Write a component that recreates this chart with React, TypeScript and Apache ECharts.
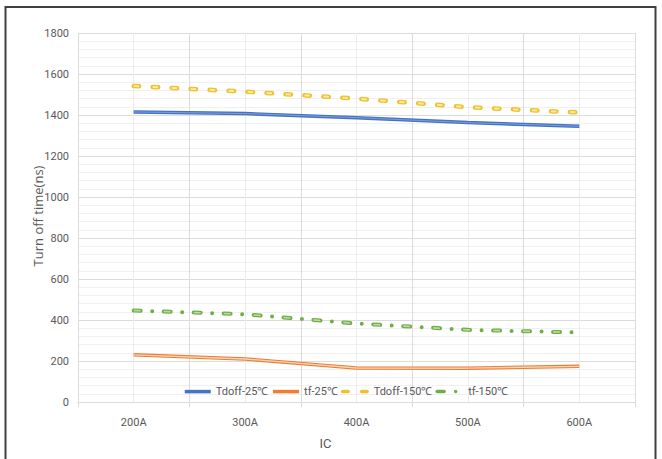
import React, { useEffect, useRef } from "react";
import * as echarts from "echarts";

// Collector current steps on the x axis
const categories = ["200A", "300A", "400A", "500A", "600A"];

// Turn-off times in ns
const tdoff25 = [1415, 1407, 1387, 1363, 1345];
const tf25 = [230, 210, 166, 165, 174];
const tdoff150 = [1541, 1514, 1480, 1438, 1412];
const tf150 = [446, 428, 383, 352, 339];

const seriesNames = ["Tdoff-25℃", "tf-25℃", "Tdoff-150℃", "tf-150℃"];
const yTitle = "Turn off time(ns)";

// y axis range and step
const yMin = 0;
const yMax = 1800;
const yStep = 200;

const tickFont = "'Roboto', 'Liberation Sans', sans-serif";
const textGray = "#595959";
const gridMajor = "#dcdcdc";
const gridMinor = "#f0f0f0";

// Each curve is a wide coloured stroke with a lighter core drawn on top of it,
// which gives the outlined look of the lines.
type LineDef = {
  name: string;
  data: number[];
  outer: string;
  inner: string;
  outerWidth: number;
  innerWidth: number;
  dash: number[] | "solid";
};

const lines: LineDef[] = [
  { name: seriesNames[0], data: tdoff25, outer: "#4472C4", inner: "#7d9ddc", outerWidth: 3.5, innerWidth: 1, dash: "solid" },
  { name: seriesNames[1], data: tf25, outer: "#ED7D31", inner: "#F9D3B8", outerWidth: 3.5, innerWidth: 1.4, dash: "solid" },
  { name: seriesNames[2], data: tdoff150, outer: "#EDC12F", inner: "#FFE89C", outerWidth: 4.5, innerWidth: 2, dash: [5.5, 13.5] },
  { name: seriesNames[3], data: tf150, outer: "#70AD47", inner: "#B9DBA1", outerWidth: 4, innerWidth: 1.6, dash: [7, 11.5, 0, 11.5] },
];

export default function App() {
  const ref = useRef<HTMLDivElement>(null);

  useEffect(() => {
    if (!ref.current) return;
    const chart = echarts.init(ref.current, null, { renderer: "svg" });

    const series: any[] = [];
    lines.forEach((l) => {
      series.push({
        name: l.name,
        type: "line",
        data: l.data,
        symbol: "none",
        z: 2,
        lineStyle: {
          color: l.outer,
          width: l.outerWidth,
          type: l.dash,
          cap: l.dash === "solid" ? "butt" : "round",
        },
        itemStyle: { color: l.outer },
      });
    });
    lines.forEach((l) => {
      series.push({
        name: l.name + " core",
        type: "line",
        data: l.data,
        symbol: "none",
        z: 3,
        silent: true,
        legendHoverLink: false,
        lineStyle: {
          color: l.inner,
          width: l.innerWidth,
          type: l.dash,
          cap: "butt",
        },
      });
    });

    chart.setOption({
      animation: false,
      backgroundColor: "#ffffff",
      textStyle: { fontFamily: tickFont },
      grid: { left: 78, right: 27, top: 33, bottom: 57, containLabel: false },
      legend: {
        data: seriesNames,
        left: 178,
        top: 381,
        itemWidth: 26,
        itemHeight: 14,
        itemGap: 3,
        itemStyle: { opacity: 0 },
        lineStyle: { width: 3.5 },
        textStyle: { color: textGray, fontSize: 11, fontFamily: tickFont },
      },
      xAxis: [
        {
          type: "category",
          data: categories,
          boundaryGap: true,
          z: 1,
          name: "IC",
          nameLocation: "middle",
          nameGap: 35,
          nameTextStyle: {
            color: textGray,
            fontSize: 13,
            fontFamily: tickFont,
            padding: [0, 62, 0, 0],
          },
          axisLine: { show: true, lineStyle: { color: gridMajor, width: 1 } },
          axisTick: { show: true, length: 5, lineStyle: { color: gridMajor } },
          axisLabel: { color: textGray, fontSize: 11, margin: 15, fontFamily: tickFont },
          splitLine: { show: true, lineStyle: { color: gridMajor, width: 1 } },
        },
        {
          // half-band guide lines
          type: "value",
          min: 0,
          max: 10,
          interval: 1,
          position: "top",
          z: 0,
          axisLine: { show: false },
          axisTick: { show: false },
          axisLabel: { show: false },
          splitLine: { show: true, lineStyle: { color: "#ececec", width: 1 } },
        },
      ],
      yAxis: {
        type: "value",
        min: yMin,
        max: yMax,
        interval: yStep,
        axisLine: { show: false },
        axisTick: { show: false },
        axisLabel: {
          color: textGray,
          fontSize: 11,
          margin: 9,
          fontFamily: tickFont,
          formatter: (v: number) => String(v),
        },
        splitLine: { show: true, lineStyle: { color: gridMajor, width: 1 } },
        minorTick: { show: false, splitNumber: 5 },
        minorSplitLine: { show: true, lineStyle: { color: gridMinor, width: 1 } },
      },
      graphic: [
        {
          type: "text",
          x: 38,
          y: 216,
          rotation: Math.PI / 2,
          style: {
            text: yTitle,
            fill: textGray,
            fontSize: 13,
            fontFamily: "'Open Sans', sans-serif",
            align: "center",
            verticalAlign: "middle",
          },
          silent: true,
        },
        {
          type: "rect",
          shape: { x: 5.5, y: 7, width: 650, height: 470 },
          style: { fill: "none", stroke: "#404040", lineWidth: 2 },
          silent: true,
          z: 10,
        },
      ],
      series,
    });

    return () => chart.dispose();
  }, []);

  return (
    <div
      ref={ref}
      style={{ position: "fixed", left: 0, top: 0, width: 662, height: 459, background: "#fff" }}
    />
  );
}
